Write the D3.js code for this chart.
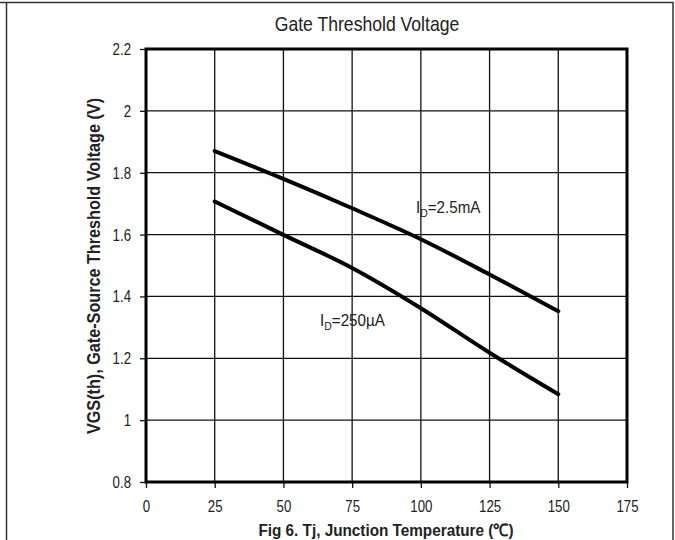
<!DOCTYPE html>
<html>
<head>
<meta charset="utf-8">
<script src="https://cdn.jsdelivr.net/npm/d3@7"></script>
<style>
body { margin: 0; background: #fff; }
svg { font-family: "Liberation Sans", Arial, sans-serif; }
</style>
</head>
<body>
<svg id="chart" width="675" height="540"></svg>
<script>
let temps = [25, 50, 75, 100, 125, 150];
let vth25mA = [1.87, 1.78, 1.685, 1.585, 1.471, 1.352];
let vth250uA = [1.707, 1.599, 1.492, 1.362, 1.218, 1.084];
let xTicks = [0, 25, 50, 75, 100, 125, 150, 175];
let yTicks = [0.8, 1, 1.2, 1.4, 1.6, 1.8, 2, 2.2];

let svg = d3.select('#chart');
let pLeft = 146, pRight = 627, pTop = 49, pBottom = 482;
let narrow = 0.78; // no narrow face installed, squeeze the regular one

// frame round the figure
svg.append('path')
  .attr('d', 'M0,2.5H673V540M6.5,2.5V540')
  .attr('fill', 'none')
  .attr('stroke', '#333')
  .attr('stroke-width', 1.5);

let x = d3.scaleLinear().domain([0, 175]).range([pLeft, pRight]);
let y = d3.scaleLinear().domain([0.8, 2.2]).range([pBottom, pTop]);

// grid
let grid = svg.append('g');
grid.selectAll('.vx').data(xTicks.slice(1, -1)).join('line')
  .attr('x1', d => x(d)).attr('x2', d => x(d))
  .attr('y1', pTop).attr('y2', pBottom)
  .attr('stroke', '#111').attr('stroke-width', 1.3);
grid.selectAll('.hy').data(yTicks.slice(1, -1)).join('line')
  .attr('y1', d => y(d)).attr('y2', d => y(d))
  .attr('x1', pLeft).attr('x2', pRight)
  .attr('stroke', '#111').attr('stroke-width', 1.3);

// axes
let xAxis = svg.append('g')
  .attr('transform', `translate(0,${pBottom})`)
  .call(d3.axisBottom(x).tickValues(xTicks).tickSize(6).tickPadding(12).tickSizeOuter(0));
let yAxis = svg.append('g')
  .attr('transform', `translate(${pLeft},0)`)
  .call(d3.axisLeft(y).tickValues(yTicks).tickSize(6).tickPadding(9).tickSizeOuter(0)
    .tickFormat(d => d3.format('')(+d.toFixed(1))));
[xAxis, yAxis].forEach(a => {
  a.select('.domain').remove();
  a.selectAll('line').attr('stroke', '#111').attr('stroke-width', 1.3);
  a.selectAll('text').attr('fill', '#222').style('font-size', '17px')
    .style('font-family', '"Liberation Sans", Arial, sans-serif')
    .attr('x', function() { return (+d3.select(this).attr('x') || 0) / narrow; })
    .attr('transform', `scale(${narrow},1)`);
});

// plot border
svg.append('rect')
  .attr('x', pLeft).attr('y', pTop)
  .attr('width', pRight - pLeft).attr('height', pBottom - pTop)
  .attr('fill', 'none').attr('stroke', '#000').attr('stroke-width', 3);

// curves
let line = d3.line().x((d, i) => x(temps[i])).y(d => y(d)).curve(d3.curveMonotoneX);
[vth25mA, vth250uA].forEach(s => {
  svg.append('path').attr('d', line(s))
    .attr('fill', 'none').attr('stroke', '#000').attr('stroke-width', 4)
    .attr('stroke-linecap', 'round');
});

// curve labels
function idLabel(xv, yv, rest) {
  let t = svg.append('text')
    .attr('transform', `translate(${x(xv)},${y(yv)}) scale(0.95,1)`)
    .attr('fill', '#222').style('font-size', '16px');
  t.append('tspan').text('I');
  t.append('tspan').text('D').attr('dy', 4).style('font-size', '11px');
  t.append('tspan').text(rest).attr('dy', -4);
}
idLabel(98.2, 1.67, '=2.5mA');
idLabel(63.3, 1.304, '=250µA');

// titles
function title(tx, ty, rot, sx, size, bold, txt) {
  svg.append('text')
    .attr('transform', `translate(${tx},${ty}) rotate(${rot}) scale(${sx},1)`)
    .attr('text-anchor', 'middle')
    .attr('fill', '#222').style('font-size', size + 'px')
    .style('font-weight', bold ? 'bold' : 'normal')
    .text(txt);
}
title(367, 31, 0, 0.88, 20, false, 'Gate Threshold Voltage');
title(386, 536, 0, 0.9, 17, true, 'Fig 6. Tj, Junction Temperature (℃)');
title(100, 266, -90, 0.9, 18, true, 'VGS(th), Gate-Source Threshold Voltage (V)');
</script>
</body>
</html>
